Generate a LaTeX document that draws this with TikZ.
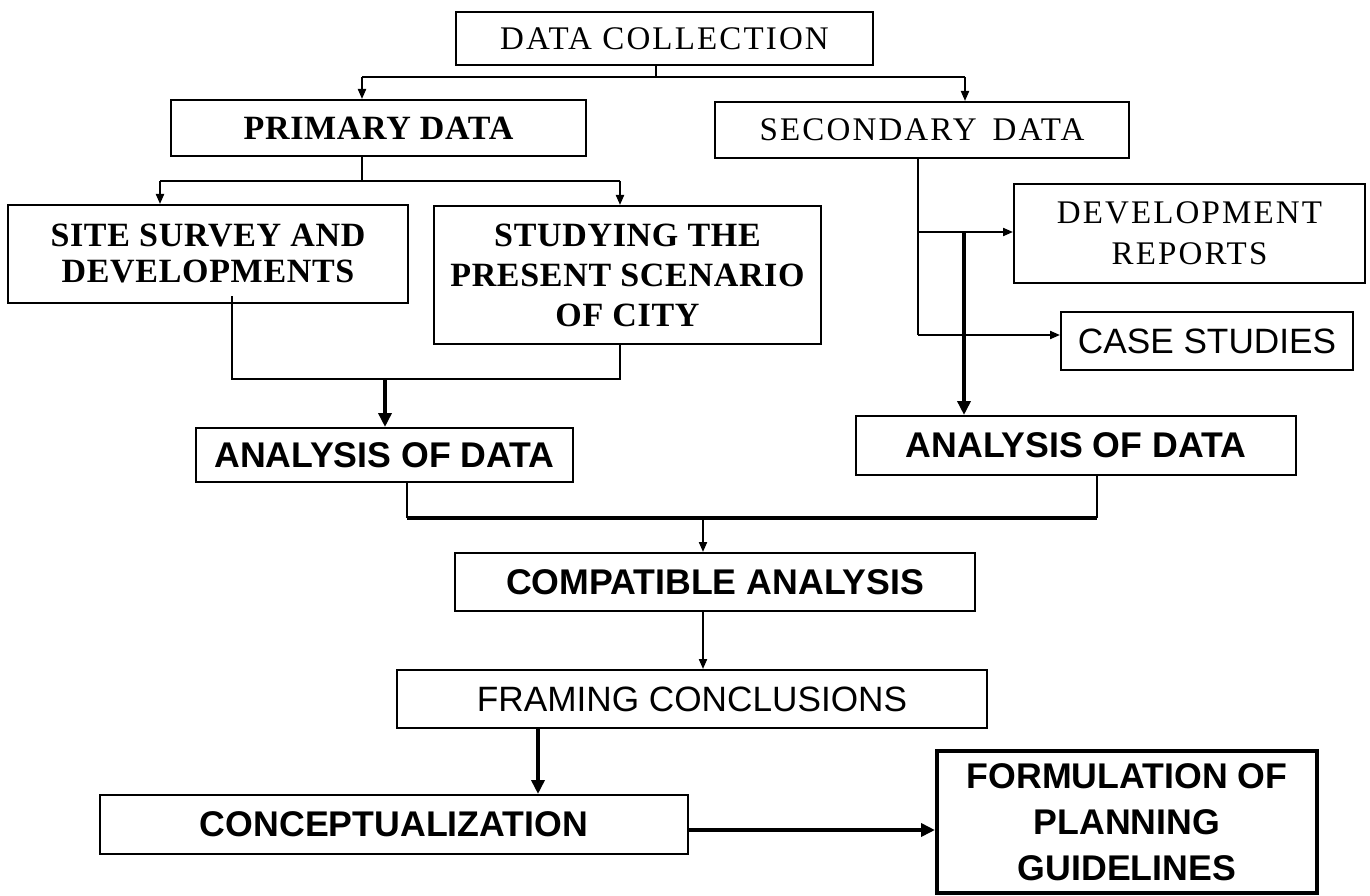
\documentclass[tikz,border=0pt]{standalone}
\usepackage{fontspec}
\setmainfont{Liberation Serif}
\setsansfont{Liberation Sans}
\newfontfamily\serifreg[LetterSpace=6.5]{Liberation Serif}
\newfontfamily\serifbd[LetterSpace=2,UprightFont={* Bold}]{Liberation Serif}
\usetikzlibrary{arrows.meta}
\tikzset{
  box/.style={draw=black, line width=2pt, inner sep=0pt, align=center, text=black},
  serifbox/.style={box, font=\serifreg\fontsize{33}{41}\selectfont},
  serifbold/.style={box, font=\serifbd\fontsize{34}{38}\selectfont},
  sansbold/.style={box, font=\fontsize{35.7}{46}\selectfont\sffamily\bfseries},
  sansreg/.style={box, font=\fontsize{35.2}{42}\selectfont\sffamily},
  conn/.style={line width=2pt, line join=miter},
  thickconn/.style={line width=4pt},
  arr/.style={conn, -{Triangle[length=10pt,width=8pt]}},
  thickarr/.style={thickconn, -{Triangle[length=14pt,width=13pt]}}
}
\begin{document}
\begin{tikzpicture}[x=1pt, y=-1pt]
\fill[white] (0,0) rectangle (1370,896);
\useasboundingbox (0,0) rectangle (1370,896);

% boxes
\node[serifbox, minimum width=417, minimum height=53] (dc) at (664.5,38.5) {DATA COLLECTION};
\node[serifbold, minimum width=415, minimum height=56] (pd) at (378.5,128) {PRIMARY DATA};
\node[serifbox, minimum width=414, minimum height=56] (sd) at (922,130) {SECONDARY\, DATA};
\node[serifbold, font=\serifbd\fontsize{34}{36}\selectfont, minimum width=400, minimum height=98] (ss) at (208,254) {SITE SURVEY AND\\DEVELOPMENTS};
\node[serifbold, font=\serifbd\fontsize{34}{40}\selectfont, minimum width=387, minimum height=138] (st) at (627.5,275) {STUDYING THE\\PRESENT SCENARIO\\OF CITY};
\node[serifbox, minimum width=351, minimum height=99] (dr) at (1189.5,233.5) {DEVELOPMENT\\REPORTS};
\node[sansreg, minimum width=292, minimum height=58] (cs) at (1207,341) {CASE STUDIES};
\node[sansbold, minimum width=377, minimum height=54] (a1) at (384.5,455) {ANALYSIS OF DATA};
\node[sansbold, minimum width=440, minimum height=59] (a2) at (1076,445.5) {ANALYSIS OF DATA};
\node[sansbold, minimum width=520, minimum height=58] (ca) at (715,582) {COMPATIBLE ANALYSIS};
\node[sansreg, minimum width=590, minimum height=58] (fc) at (692,699) {FRAMING CONCLUSIONS};
\node[sansbold, minimum width=588, minimum height=59] (co) at (394,824.5) {CONCEPTUALIZATION};
\node[sansbold, line width=4pt, minimum width=380, minimum height=142] (fo) at (1127,822) {FORMULATION OF\\PLANNING\\GUIDELINES};

% junction points
\coordinate (h1m) at (656,77);
\coordinate (h1l) at (362,77);
\coordinate (h1r) at (965,77);
\coordinate (h2m) at (362,181);
\coordinate (h2l) at (160,181);
\coordinate (h2r) at (620,181);
\coordinate (h3l) at (232,379);
\coordinate (h3r) at (620,379);
\coordinate (h3m) at (385,379);
\coordinate (h4l) at (407,518);
\coordinate (h4r) at (1097,518);
\coordinate (h4m) at (703,518);
\coordinate (s1) at (918,232);
\coordinate (s2) at (918,335);
\coordinate (s3) at (964,232);
\coordinate (c1) at (538,0);
\coordinate (c2) at (0,830);

% top level
\draw[conn] (h1m |- dc.south) -- (h1m);
\draw[conn] (h1l) -- (h1r);
\draw[arr] (h1l) -- (h1l |- pd.north);
\draw[arr] (h1r) -- (h1r |- sd.north);

% primary
\draw[conn] (h2m |- pd.south) -- (h2m);
\draw[conn] (h2l) -- (h2r);
\draw[arr] (h2l) -- (h2l |- ss.north);
\draw[arr] (h2r) -- (h2r |- st.north);
\draw[conn] ([yshift=8pt]h3l |- ss.south) -- (h3l) -- (h3r) -- (h3r |- st.south);
\draw[thickarr] (h3m) -- (h3m |- a1.north);

% secondary
\draw[conn] (s2 |- sd.south) -- (s2);
\draw[arr] (s1) -- (s1 -| dr.west);
\draw[arr] (s2) -- (s2 -| cs.west);
\draw[thickarr] (s3) -- (s3 |- a2.north);

% merge
\draw[conn] (h4l |- a1.south) -- (h4l);
\draw[conn] (h4r |- a2.south) -- (h4r);
\draw[thickconn] (h4l) -- (h4r);
\draw[arr] (h4m) -- (h4m |- ca.north);
\draw[arr] (h4m |- ca.south) -- (h4m |- fc.north);
\draw[thickarr] (c1 |- fc.south) -- (c1 |- co.north);
\draw[thickarr] (c2 -| co.east) -- (c2 -| fo.west);
\end{tikzpicture}
\end{document}
